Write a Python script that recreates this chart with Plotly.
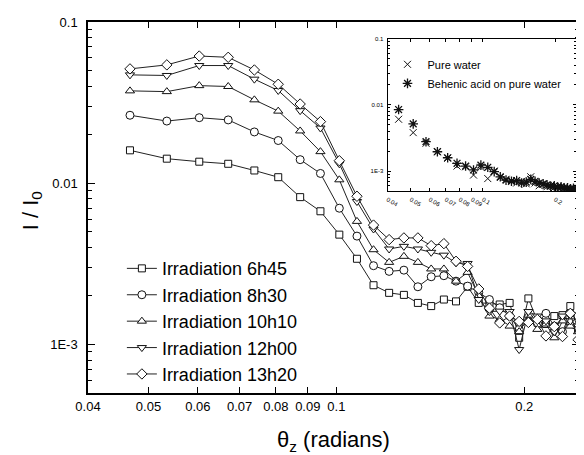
import plotly.graph_objects as go

# ---------------- data ----------------
theta = [0.0467, 0.0535, 0.0603, 0.0671, 0.0739, 0.0807, 0.0875, 0.0943, 0.1011, 0.1079,
         0.1147, 0.1215, 0.1283, 0.1351, 0.1419, 0.1487, 0.1555, 0.1623, 0.1691, 0.1759,
         0.1827, 0.1895, 0.1963, 0.2031, 0.2099, 0.2167, 0.2235, 0.2303, 0.2371, 0.2439]

irr_6h45 = [0.0160, 0.0142, 0.0136, 0.0132, 0.0120, 0.0109, 0.0082, 0.0067, 0.0048, 0.0034,
            0.00233, 0.00209, 0.00203, 0.00181, 0.00173, 0.00190, 0.00185, 0.00228, 0.00181, 0.00180,
            0.00177, 0.00181, 0.00110, 0.00193, 0.00140, 0.00134, 0.00150, 0.00152, 0.00173, 0.00124]
irr_8h30 = [0.0264, 0.0243, 0.0255, 0.0247, 0.0208, 0.0184, 0.0140, 0.0115, 0.0070, 0.0047,
            0.00308, 0.00284, 0.00289, 0.00228, 0.00263, 0.00267, 0.00247, 0.00230, 0.00210, 0.00190,
            0.00169, 0.00150, 0.00124, 0.00140, 0.00135, 0.00156, 0.00130, 0.00120, 0.00156, 0.00150]
irr_10h10 = [0.0374, 0.0370, 0.0403, 0.0398, 0.0329, 0.0280, 0.0211, 0.0157, 0.0105, 0.0058,
             0.00387, 0.00323, 0.00352, 0.00323, 0.00294, 0.00294, 0.00247, 0.00280, 0.00200, 0.00150,
             0.00143, 0.00130, 0.00120, 0.00152, 0.00124, 0.00134, 0.00110, 0.00140, 0.00130, 0.00120]
irr_12h00 = [0.0470, 0.0466, 0.0537, 0.0537, 0.0442, 0.0376, 0.0282, 0.0220, 0.0132, 0.0077,
             0.00520, 0.00391, 0.00406, 0.00391, 0.00373, 0.00358, 0.00321, 0.00318, 0.00190, 0.00160,
             0.00161, 0.00160, 0.00093, 0.00160, 0.00150, 0.00140, 0.00120, 0.00150, 0.00140, 0.00130]
irr_13h20 = [0.0512, 0.0542, 0.0615, 0.0604, 0.0504, 0.0411, 0.0310, 0.0241, 0.0138, 0.0083,
             0.00550, 0.00447, 0.00458, 0.00458, 0.00410, 0.00422, 0.00328, 0.00305, 0.00221, 0.00168,
             0.00136, 0.00150, 0.00139, 0.00137, 0.00143, 0.00113, 0.00129, 0.00112, 0.00156, 0.00107]

series_names = ["Irradiation 6h45", "Irradiation 8h30", "Irradiation 10h10",
                "Irradiation 12h00", "Irradiation 13h20"]
series_values = [irr_6h45, irr_8h30, irr_10h10, irr_12h00, irr_13h20]

# inset data
theta_inset = [0.0445, 0.0512, 0.0579, 0.0646, 0.0713, 0.0780, 0.0847, 0.0914, 0.0981, 0.1048,
               0.1115, 0.1182, 0.1249, 0.1316, 0.1383, 0.1450, 0.1517, 0.1584, 0.1651, 0.1718,
               0.1785, 0.1852, 0.1919, 0.1986, 0.2053, 0.2120, 0.2187, 0.2254, 0.2321, 0.2388, 0.2455]
pure_water = [0.00606, 0.00381, 0.00263, 0.00196, 0.00156, 0.00119, 0.00116, 0.00087, 0.00114, 0.00077,
              0.00100, 0.00080, 0.00075, 0.00072, 0.00066, 0.00070, 0.00064, 0.00082, 0.00066, 0.00060,
              0.00063, 0.00058, 0.00061, 0.00056, 0.00058, 0.00055, 0.00057, 0.00054, 0.00055, 0.00053, 0.00054]
behenic = [0.0085, 0.00516, 0.00278, 0.00196, 0.00159, 0.00131, 0.00119, 0.00104, 0.00123, 0.00114,
           0.00098, 0.00082, 0.00073, 0.00070, 0.00072, 0.00066, 0.00068, 0.00075, 0.00070, 0.00066,
           0.00064, 0.00062, 0.00059, 0.00060, 0.00057, 0.00058, 0.00055, 0.00056, 0.00054, 0.00055, 0.00053]
inset_names = ["Pure water", "Behenic acid on pure water"]

x_tick_vals = [0.04, 0.05, 0.06, 0.07, 0.08, 0.09, 0.1, 0.2]
x_tick_text = ["0.04", "0.05", "0.06", "0.07", "0.08", "0.09", "0.1", "0.2"]
y_tick_vals = [0.001, 0.01, 0.1]
y_tick_text = ["1E-3", "0.01", "0.1"]

# ---------------- figure ----------------
FONT = "Arial, Liberation Sans, sans-serif"
symbols = ["square", "circle", "triangle-up", "triangle-down", "diamond"]
sizes = [7, 8, 8, 8, 8]

fig = go.Figure()
for name, vals, sym, sz in zip(series_names, series_values, symbols, sizes):
    fig.add_trace(go.Scatter(
        x=theta, y=vals, name=name, mode="lines+markers",
        line=dict(color="#222222", width=1),
        marker=dict(symbol=sym, size=sz, color="white", line=dict(color="#111111", width=1)),
        legend="legend", xaxis="x", yaxis="y"))

fig.add_trace(go.Scatter(
    x=theta_inset, y=pure_water, name=inset_names[0], mode="markers",
    marker=dict(symbol="x-thin-open", size=7, color="#111111", line=dict(color="#111111", width=1)),
    legend="legend2", xaxis="x2", yaxis="y2"))
fig.add_trace(go.Scatter(
    x=theta_inset, y=behenic, name=inset_names[1], mode="markers",
    marker=dict(symbol="asterisk-open", size=8, color="#111111", line=dict(color="#111111", width=1.3)),
    legend="legend2", xaxis="x2", yaxis="y2"))

minor_vals = [m * 10 ** e for e in (-4, -3, -2) for m in range(2, 10)]

common_axis = dict(type="log", showgrid=False, zeroline=False, showline=True,
                   linecolor="black", mirror="ticks", ticks="inside", tickcolor="black")

# The page body adds an 8px margin, so the figure is 8px smaller and margins shifted.
fig.update_layout(
    width=576, height=447,
    margin=dict(l=80, r=3, t=14, b=62),
    paper_bgcolor="white", plot_bgcolor="white",
    font=dict(family=FONT, color="black"),
    xaxis=dict(**common_axis, range=[-1.39794, -0.6112], domain=[0, 1],
               linewidth=1.5, ticklen=6, tickwidth=1.2,
               tickmode="array", tickvals=x_tick_vals, ticktext=x_tick_text,
               tickfont=dict(size=13, family=FONT), ticklabelstandoff=1),
    yaxis=dict(**common_axis, range=[-3.30103, -1], domain=[0, 1],
               linewidth=1.5, ticklen=7, tickwidth=1.2,
               tickmode="array", tickvals=y_tick_vals, ticktext=y_tick_text,
               tickfont=dict(size=13, family=FONT), ticklabelstandoff=6,
               minor=dict(tickmode="array", tickvals=minor_vals, ticks="inside",
                          ticklen=4, tickcolor="black", tickwidth=1, showgrid=False)),
    xaxis2=dict(**common_axis, range=[-1.39794, -0.6112], domain=[0.61, 0.994], anchor="y2",
                linewidth=1, ticklen=3, tickwidth=0.8,
                tickmode="array", tickvals=x_tick_vals, ticktext=x_tick_text,
                tickfont=dict(size=6, family=FONT), ticklabelstandoff=2),
    yaxis2=dict(**common_axis, range=[-3.30103, -1], domain=[0.5445, 0.955], anchor="x2",
                linewidth=1, ticklen=3, tickwidth=0.8,
                tickmode="array", tickvals=y_tick_vals, ticktext=y_tick_text,
                tickfont=dict(size=6, family=FONT), ticklabelstandoff=2,
                minor=dict(tickmode="array", tickvals=minor_vals, ticks="inside",
                           ticklen=2, tickcolor="black", tickwidth=0.8, showgrid=False)),
    legend=dict(x=0.069, y=0.385, xanchor="left", yanchor="top",
                bgcolor="rgba(0,0,0,0)", borderwidth=0,
                font=dict(size=18, family=FONT, color="black"), tracegroupgap=0),
    legend2=dict(x=0.61, y=0.925, xanchor="left", yanchor="top",
                 bgcolor="rgba(0,0,0,0)", borderwidth=0,
                 font=dict(size=11, family=FONT, color="black")),
    showlegend=True,
    annotations=[
        dict(text="θ<sub>z</sub> (radians)", xref="paper", yref="paper",
             x=0.5, y=-0.13, xanchor="center", yanchor="middle", showarrow=False,
             font=dict(size=22, family=FONT, color="black")),
        dict(text="I / I<sub>0</sub>", xref="paper", yref="paper", textangle=-90,
             x=-0.114, y=0.49, xanchor="center", yanchor="middle", showarrow=False,
             font=dict(size=22, family=FONT, color="black")),
    ],
)

fig.write_html("out.html")
